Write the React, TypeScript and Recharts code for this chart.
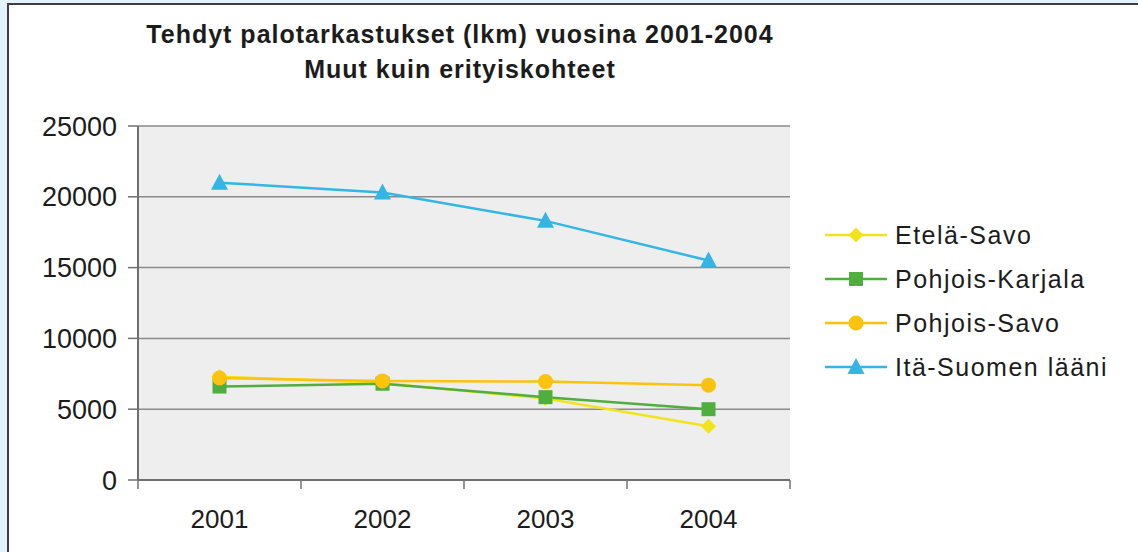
import React from "react";
import { LineChart, Line, XAxis, YAxis, CartesianGrid, Legend } from "recharts";

// values
const years = ["2001", "2002", "2003", "2004"];
const etelaSavo = [7300, 6850, 5750, 3800];
const pohjoisKarjala = [6600, 6800, 5850, 5000];
const pohjoisSavo = [7200, 7000, 6950, 6700];
const itaSuomi = [21000, 20300, 18300, 15500];
const yTicks = [0, 5000, 10000, 15000, 20000, 25000];

const titleLines = [
  "Tehdyt palotarkastukset (lkm) vuosina 2001-2004",
  "Muut kuin erityiskohteet",
];

type Shape = "diamond" | "square" | "circle" | "triangle";

const series: { key: string; name: string; color: string; shape: Shape; values: number[] }[] = [
  { key: "etela", name: "Etelä-Savo", color: "#f2e41c", shape: "diamond", values: etelaSavo },
  { key: "karjala", name: "Pohjois-Karjala", color: "#4fae3e", shape: "square", values: pohjoisKarjala },
  { key: "psavo", name: "Pohjois-Savo", color: "#fbc20e", shape: "circle", values: pohjoisSavo },
  { key: "ita", name: "Itä-Suomen lääni", color: "#33b5e6", shape: "triangle", values: itaSuomi },
];

const data = years.map((year, i) => {
  const row: Record<string, string | number> = { year };
  series.forEach((s) => (row[s.key] = s.values[i]));
  return row;
});

const FONT = '"Liberation Sans", Arial, sans-serif';
const TEXT = "#1c1c1c";
const AXIS = "#707070";

function Marker({ cx, cy, shape, color }: { cx: number; cy: number; shape: Shape; color: string }) {
  if (cx == null || cy == null) return null;
  if (shape === "diamond") {
    return <polygon points={`${cx},${cy - 7.5} ${cx + 7.5},${cy} ${cx},${cy + 7.5} ${cx - 7.5},${cy}`} fill={color} />;
  }
  if (shape === "square") {
    return <rect x={cx - 7} y={cy - 7} width={14} height={14} fill={color} />;
  }
  if (shape === "circle") {
    return <circle cx={cx} cy={cy} r={7.5} fill={color} />;
  }
  return <polygon points={`${cx},${cy - 9} ${cx + 8.5},${cy + 7} ${cx - 8.5},${cy + 7}`} fill={color} />;
}

// year label + excel-style tick marks on the category boundaries
function YearTick(props: any) {
  const { x, y, payload, index, visibleTicksCount, width } = props;
  const half = width / visibleTicksCount / 2;
  const last = index === visibleTicksCount - 1;
  return (
    <g>
      <line x1={x - half} x2={x - half} y1={y} y2={y + 9} stroke={AXIS} strokeWidth={1.5} />
      {last && <line x1={x + half} x2={x + half} y1={y} y2={y + 9} stroke={AXIS} strokeWidth={1.5} />}
      <text x={x} y={y + 30} dy="0.71em" textAnchor="middle" fontSize={26} fill={TEXT} fontFamily={FONT}>
        {payload.value}
      </text>
    </g>
  );
}

function LegendBox() {
  return (
    <div style={{ fontFamily: FONT }}>
      {series.map((s) => (
        <div key={s.key} style={{ height: 44, display: "flex", alignItems: "center" }}>
          <svg width={64} height={20}>
            <line x1={0} y1={10} x2={62} y2={10} stroke={s.color} strokeWidth={2.5} />
            <Marker cx={31} cy={10} shape={s.shape} color={s.color} />
          </svg>
          <span style={{ marginLeft: 6, fontSize: 25, letterSpacing: 1.5, color: TEXT }}>{s.name}</span>
        </div>
      ))}
    </div>
  );
}

export default function App() {
  return (
    <div
      style={{
        position: "absolute",
        left: 0,
        top: 0,
        width: 1138,
        height: 552,
        overflow: "hidden",
        background: "#e3f2fc",
        fontFamily: FONT,
      }}
    >
      <div
        style={{
          position: "absolute",
          left: 7,
          top: 3,
          width: 1150,
          height: 570,
          background: "#fff",
          border: "2px solid #3e3e3e",
          boxSizing: "border-box",
        }}
      />
      {titleLines.map((t, i) => (
        <div
          key={t}
          style={{
            position: "absolute",
            left: 0,
            width: 920,
            top: 22 + i * 35,
            textAlign: "center",
            fontSize: 25,
            lineHeight: "25px",
            fontWeight: "bold",
            letterSpacing: 1,
            color: TEXT,
          }}
        >
          {t}
        </div>
      ))}
      <div style={{ position: "absolute", left: 0, top: 0 }}>
        <LineChart width={1138} height={552} data={data} margin={{ top: 126, right: 348, bottom: 0, left: 0 }}>
          <CartesianGrid vertical={false} fill="#eeeeee" stroke="#8a8a8a" strokeWidth={1.5} />
          <XAxis
            dataKey="year"
            scale="band"
            height={72}
            interval={0}
            axisLine={{ stroke: AXIS, strokeWidth: 2 }}
            tickLine={false}
            tickSize={0}
            tickMargin={0}
            tick={<YearTick />}
          />
          <YAxis
            width={138}
            domain={[0, 25000]}
            ticks={yTicks}
            interval={0}
            tickSize={10}
            tickMargin={11}
            axisLine={{ stroke: AXIS, strokeWidth: 2 }}
            tickLine={{ stroke: AXIS, strokeWidth: 1.5 }}
            tick={{ fontSize: 27, fill: TEXT, fontFamily: FONT }}
          />
          <YAxis
            yAxisId="right"
            orientation="right"
            width={0}
            domain={[0, 25000]}
            tick={false}
            tickLine={false}
            axisLine={{ stroke: "#8a8a8a", strokeWidth: 2 }}
          />
          <Legend
            layout="vertical"
            align="center"
            verticalAlign="middle"
            content={() => <LegendBox />}
            wrapperStyle={{ position: "absolute", left: 825, top: 213, width: 310 }}
          />
          {series.map((s) => (
            <Line
              key={s.key}
              dataKey={s.key}
              name={s.name}
              type="linear"
              stroke={s.color}
              strokeWidth={2.5}
              isAnimationActive={false}
              dot={(p: any) => <Marker key={`${s.key}-${p.index}`} cx={p.cx} cy={p.cy} shape={s.shape} color={s.color} />}
              activeDot={false}
            />
          ))}
        </LineChart>
      </div>
    </div>
  );
}
